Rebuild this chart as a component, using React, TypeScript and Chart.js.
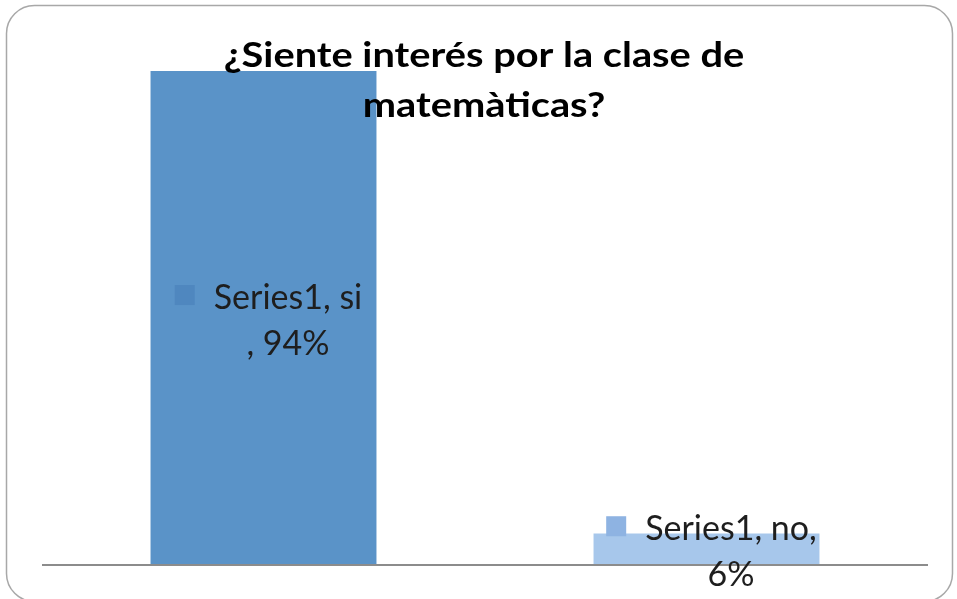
import React, { useEffect, useRef } from "react";
import { Chart, registerables } from "chart.js";

Chart.register(...registerables);

const categories = ["si", "no"];
const seriesName = "Series1";
const values = [94, 6];
const titleLines = ["¿Siente interés por la clase de", "matemàticas?"];
// character position at which each data label wraps onto a second line
const labelWrapAt = [11, 12];

const barColors = ["#5A93C8", "#A7C7EB"];
const markerColors = ["#4F87BF", "#8EB3E2"];

export default function App() {
  const ref = useRef<HTMLCanvasElement>(null);

  useEffect(() => {
    document.body.style.margin = "0";
    const canvas = ref.current;
    if (!canvas) return;

    const decor = {
      id: "decor",
      beforeDraw(chart: any) {
        const ctx = chart.ctx as CanvasRenderingContext2D;
        ctx.save();
        ctx.fillStyle = "#ffffff";
        ctx.fillRect(0, 0, chart.width, chart.height);
        const x = 6.5, y = 5.5, w = 946, h = 596, r = 28;
        ctx.beginPath();
        ctx.moveTo(x + r, y);
        ctx.lineTo(x + w - r, y);
        ctx.arcTo(x + w, y, x + w, y + r, r);
        ctx.lineTo(x + w, y + h - r);
        ctx.arcTo(x + w, y + h, x + w - r, y + h, r);
        ctx.lineTo(x + r, y + h);
        ctx.arcTo(x, y + h, x, y + h - r, r);
        ctx.lineTo(x, y + r);
        ctx.arcTo(x, y, x + r, y, r);
        ctx.closePath();
        ctx.strokeStyle = "#a8a8a8";
        ctx.lineWidth = 1.5;
        ctx.stroke();
        ctx.restore();
      },
      afterDatasetsDraw(chart: any) {
        const ctx = chart.ctx as CanvasRenderingContext2D;
        const { chartArea, scales } = chart;
        ctx.save();
        // baseline (category axis line)
        const y0 = scales.y.getPixelForValue(0);
        ctx.strokeStyle = "#8c8c8c";
        ctx.lineWidth = 2;
        ctx.beginPath();
        ctx.moveTo(chartArea.left, y0);
        ctx.lineTo(chartArea.right, y0);
        ctx.stroke();

        // data labels
        const meta = chart.getDatasetMeta(0);
        ctx.font = "34px Lato, 'Open Sans', sans-serif";
        ctx.fillStyle = "#1e1e1e";
        ctx.textBaseline = "alphabetic";
        meta.data.forEach((bar: any, i: number) => {
          const p = bar.getProps(["x", "y", "base"], true);
          const full = `${seriesName}, ${categories[i]}, ${values[i]}%`;
          const lines = [
            full.slice(0, labelWrapAt[i]).trim(),
            full.slice(labelWrapAt[i]).trim(),
          ];
          const cy = (p.y + p.base) / 2;
          const W = Math.max(...lines.map((l) => ctx.measureText(l).width));
          const marker = 20, gap = 19;
          const total = marker + gap + W;
          const left = p.x + 5 - total / 2;
          const textCenter = left + marker + gap + W / 2;
          const b1 = cy - 9;
          const b2 = cy + 37;
          ctx.fillStyle = markerColors[i];
          ctx.fillRect(left, b1 - 24, marker, marker);
          ctx.fillStyle = "#1e1e1e";
          ctx.textAlign = "center";
          ctx.fillText(lines[0], textCenter, b1);
          ctx.fillText(lines[1], textCenter, b2);
        });

        // title (drawn over the bars, as in the original)
        ctx.font = "bold 34px Lato, 'Open Sans', sans-serif";
        ctx.fillStyle = "#000000";
        ctx.textAlign = "center";
        const titleBaselines = [67, 117];
        titleLines.forEach((t, k) => {
          ctx.save();
          ctx.translate(484, titleBaselines[k]);
          ctx.scale(1.17, 1);
          ctx.fillText(t, 0, 0);
          ctx.restore();
        });
        ctx.restore();
      },
    };

    const chart = new Chart(canvas, {
      type: "bar",
      data: {
        labels: categories,
        datasets: [
          {
            label: seriesName,
            data: values,
            backgroundColor: barColors,
            borderWidth: 0,
            categoryPercentage: 1,
            barPercentage: 0.51,
          },
        ],
      },
      options: {
        responsive: false,
        animation: false,
        layout: { padding: { left: 42, right: 29, top: 39.5, bottom: 34 } },
        plugins: {
          legend: { display: false },
          title: { display: false },
          tooltip: { enabled: false },
        },
        scales: {
          x: { display: false },
          y: { display: false, min: 0, max: 100 },
        },
      },
      plugins: [decor],
    });
    return () => chart.destroy();
  }, []);

  return (
    <div style={{ width: 957, height: 599 }}>
      <canvas ref={ref} width={957} height={599} style={{ display: "block" }} />
    </div>
  );
}
